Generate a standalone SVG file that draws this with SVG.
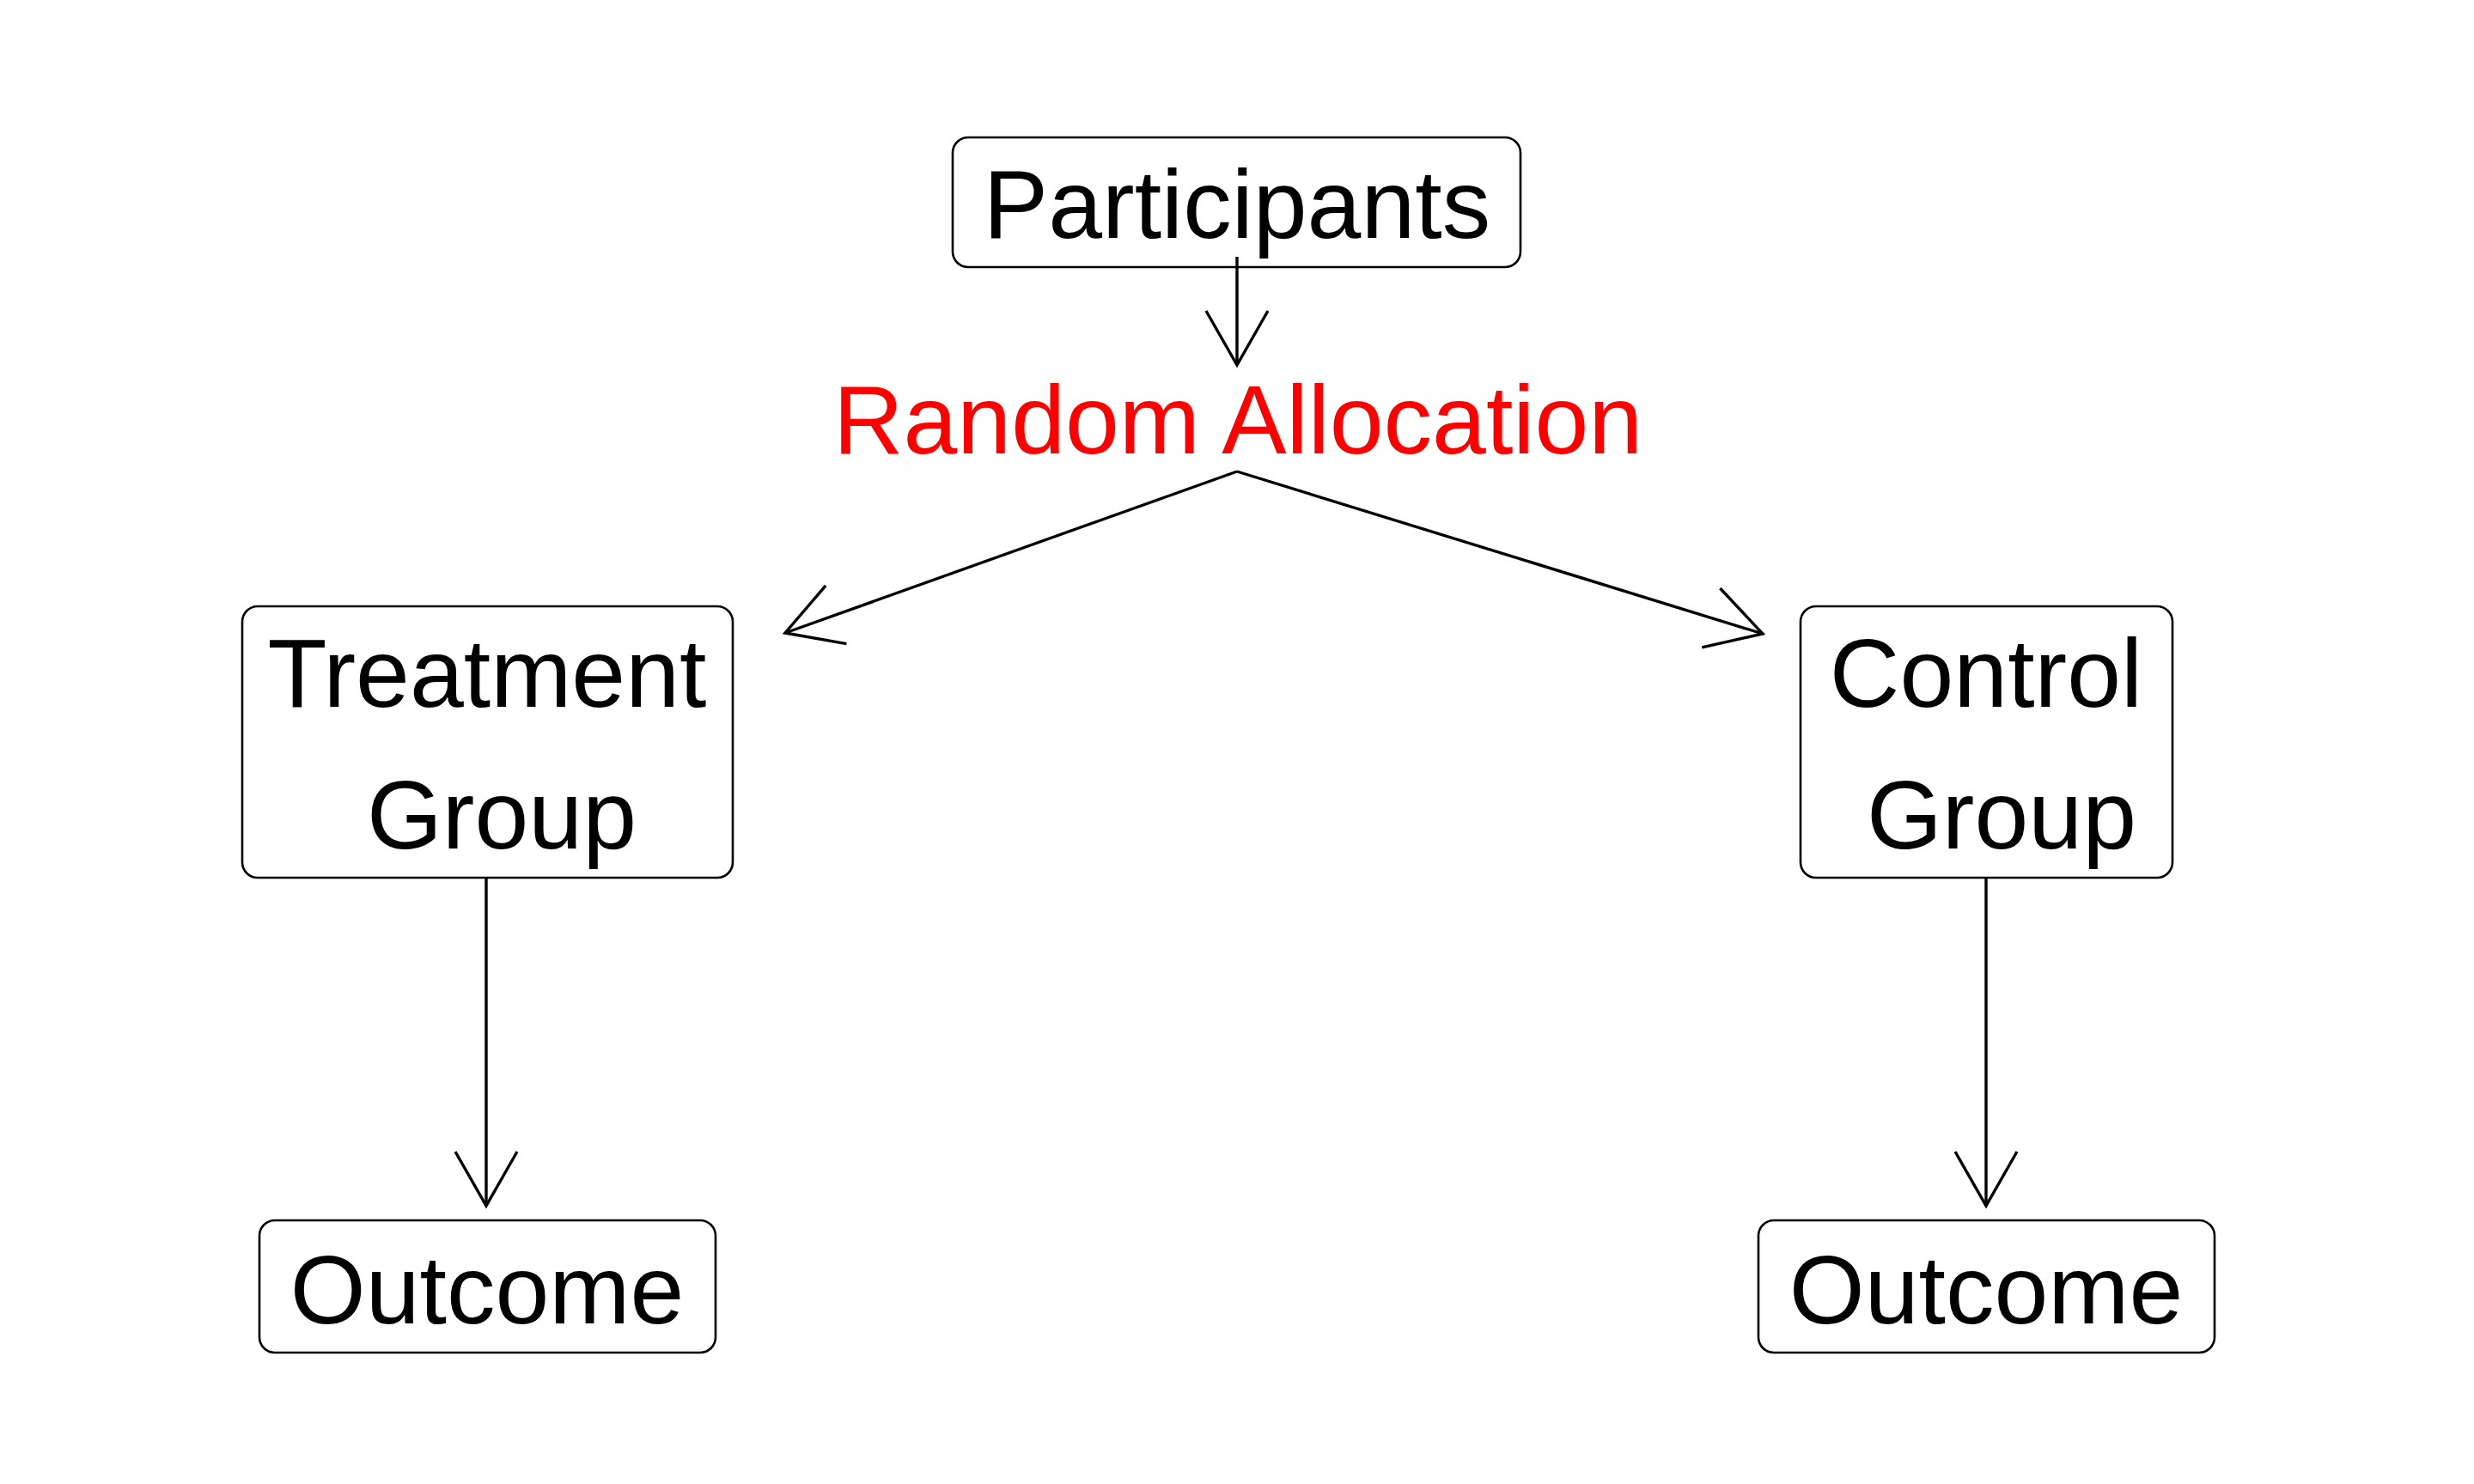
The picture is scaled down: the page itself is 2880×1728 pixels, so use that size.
<svg xmlns="http://www.w3.org/2000/svg" width="2880" height="1728" viewBox="0 0 2880 1728">
  <style>
    .box { fill: #ffffff; stroke: #000000; stroke-width: 2.6; }
    .lbl { font-family: "Liberation Sans", Arial, Helvetica, sans-serif; font-size: 113px; fill: #000000; text-anchor: middle; }
    .red { fill: #ff0000; }
    .conn { fill: none; stroke: #000000; stroke-width: 3.4; }
  </style>
  <defs>
    <marker id="open" markerUnits="userSpaceOnUse" orient="auto" refX="0" refY="0" markerWidth="200" markerHeight="200" viewBox="-100 -100 200 200" overflow="visible">
      <path d="M-63,-36 L0,0 L-63,36" fill="none" stroke="#000000" stroke-width="3.4" stroke-linejoin="miter"/>
    </marker>
  </defs>
  <rect width="2880" height="1728" fill="#ffffff"/>

  <g id="participants">
    <rect class="box" x="1109" y="160" width="661" height="151" rx="18" ry="18"/>
    <text class="lbl" x="1440" y="277">Participants</text>
  </g>

  <g id="random-allocation">
    <text class="lbl red" x="1441" y="528">Random Allocation</text>
  </g>

  <g id="treatment-group">
    <rect class="box" x="282" y="706" width="571" height="316" rx="18" ry="18"/>
    <text class="lbl" x="567" y="823">Treatment</text>
    <text class="lbl" x="584" y="988">Group</text>
  </g>

  <g id="control-group">
    <rect class="box" x="2096" y="706" width="433" height="316" rx="18" ry="18"/>
    <text class="lbl" x="2312" y="823">Control</text>
    <text class="lbl" x="2330" y="988">Group</text>
  </g>

  <g id="outcome-treatment">
    <rect class="box" x="302" y="1421" width="531" height="154" rx="18" ry="18"/>
    <text class="lbl" x="567" y="1541">Outcome</text>
  </g>

  <g id="outcome-control">
    <rect class="box" x="2047" y="1421" width="531" height="154" rx="18" ry="18"/>
    <text class="lbl" x="2312" y="1541">Outcome</text>
  </g>

  <g id="connectors">
    <line class="conn" x1="1440" y1="299" x2="1440" y2="425" marker-end="url(#open)"/>
    <line class="conn" x1="1440" y1="549" x2="914" y2="737" marker-end="url(#open)"/>
    <line class="conn" x1="1440" y1="549" x2="2052" y2="738" marker-end="url(#open)"/>
    <line class="conn" x1="566" y1="1021" x2="566" y2="1404" marker-end="url(#open)"/>
    <line class="conn" x1="2312" y1="1021" x2="2312" y2="1404" marker-end="url(#open)"/>
  </g>
</svg>
